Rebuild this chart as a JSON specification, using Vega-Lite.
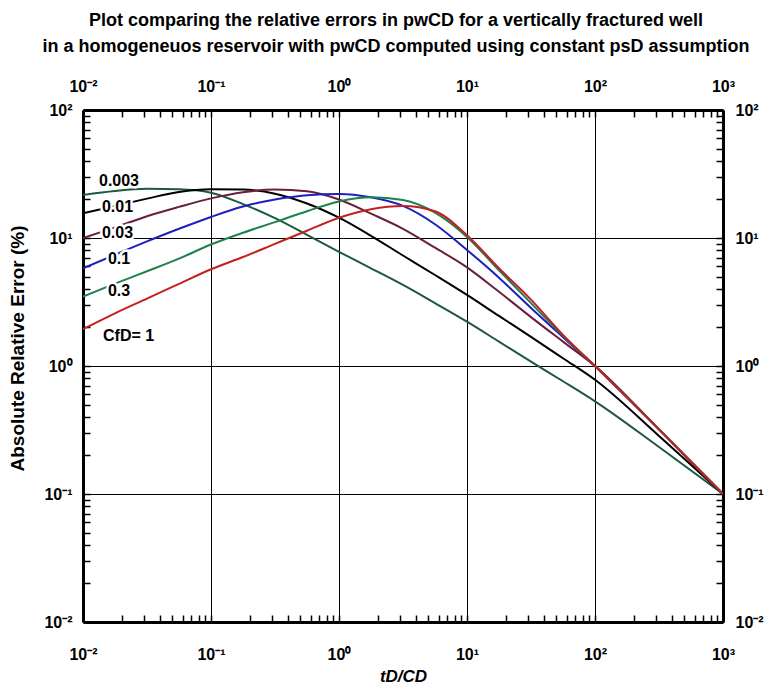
{
  "$schema": "https://vega.github.io/schema/vega-lite/v6.json",
  "width": 640,
  "height": 512,
  "autosize": "none",
  "padding": {"left": 83, "top": 110, "right": 43, "bottom": 68},
  "background": "white",
  "title": {
    "text": ["Plot comparing the relative errors in pwCD for a vertically fractured well", "in a homogeneuos reservoir with pwCD computed using constant psD assumption"],
    "font": "Liberation Sans", "fontSize": 18, "fontWeight": "bold", "color": "black",
    "lineHeight": 26, "anchor": "middle", "offset": 22, "dx": -7
  },
  "config": {
    "view": {"stroke": null},
    "axis": {
      "labelFont": "Liberation Sans", "labelFontSize": 16, "labelFontWeight": "bold", "labelColor": "black",
      "titleFont": "Liberation Sans", "titleFontSize": 17, "titleFontWeight": "bold", "titleColor": "black",
      "domainColor": "black", "domainWidth": 3, "tickColor": "black", "tickWidth": 1.5,
      "gridColor": "black", "gridWidth": 1
    }
  },
  "datasets": {
    "curves": [
      {"cfd": "0.003", "t": 0.01, "e": 21.7}, {"cfd": "0.003", "t": 0.01778, "e": 23.3}, {"cfd": "0.003", "t": 0.03162, "e": 24.2}, {"cfd": "0.003", "t": 0.05623, "e": 24.0}, {"cfd": "0.003", "t": 0.1, "e": 22.6}, {"cfd": "0.003", "t": 0.1778, "e": 18.4}, {"cfd": "0.003", "t": 0.3162, "e": 14.3}, {"cfd": "0.003", "t": 0.5623, "e": 10.6}, {"cfd": "0.003", "t": 1, "e": 7.8}, {"cfd": "0.003", "t": 1.778, "e": 5.8}, {"cfd": "0.003", "t": 3.162, "e": 4.3}, {"cfd": "0.003", "t": 5.623, "e": 3.1}, {"cfd": "0.003", "t": 10, "e": 2.22}, {"cfd": "0.003", "t": 17.78, "e": 1.55}, {"cfd": "0.003", "t": 31.62, "e": 1.08}, {"cfd": "0.003", "t": 56.23, "e": 0.76}, {"cfd": "0.003", "t": 100, "e": 0.53}, {"cfd": "0.003", "t": 316.2, "e": 0.233}, {"cfd": "0.003", "t": 1000, "e": 0.1},
      {"cfd": "0.01", "t": 0.01, "e": 15.6}, {"cfd": "0.01", "t": 0.01778, "e": 17.8}, {"cfd": "0.01", "t": 0.03162, "e": 20.3}, {"cfd": "0.01", "t": 0.05623, "e": 22.9}, {"cfd": "0.01", "t": 0.1, "e": 24.0}, {"cfd": "0.01", "t": 0.1778, "e": 23.9}, {"cfd": "0.01", "t": 0.3162, "e": 22.2}, {"cfd": "0.01", "t": 0.5623, "e": 18.6}, {"cfd": "0.01", "t": 1, "e": 14.4}, {"cfd": "0.01", "t": 1.778, "e": 10.4}, {"cfd": "0.01", "t": 3.162, "e": 7.3}, {"cfd": "0.01", "t": 5.623, "e": 5.14}, {"cfd": "0.01", "t": 10, "e": 3.59}, {"cfd": "0.01", "t": 17.78, "e": 2.46}, {"cfd": "0.01", "t": 31.62, "e": 1.69}, {"cfd": "0.01", "t": 56.23, "e": 1.15}, {"cfd": "0.01", "t": 100, "e": 0.78}, {"cfd": "0.01", "t": 316.2, "e": 0.284}, {"cfd": "0.01", "t": 1000, "e": 0.1},
      {"cfd": "0.03", "t": 0.01, "e": 10.0}, {"cfd": "0.03", "t": 0.01778, "e": 12.1}, {"cfd": "0.03", "t": 0.03162, "e": 14.8}, {"cfd": "0.03", "t": 0.05623, "e": 17.5}, {"cfd": "0.03", "t": 0.1, "e": 20.4}, {"cfd": "0.03", "t": 0.1778, "e": 22.8}, {"cfd": "0.03", "t": 0.3162, "e": 23.9}, {"cfd": "0.03", "t": 0.5623, "e": 23.2}, {"cfd": "0.03", "t": 1, "e": 20.0}, {"cfd": "0.03", "t": 1.778, "e": 15.5}, {"cfd": "0.03", "t": 3.162, "e": 11.8}, {"cfd": "0.03", "t": 5.623, "e": 8.4}, {"cfd": "0.03", "t": 10, "e": 5.9}, {"cfd": "0.03", "t": 17.78, "e": 3.8}, {"cfd": "0.03", "t": 31.62, "e": 2.41}, {"cfd": "0.03", "t": 56.23, "e": 1.55}, {"cfd": "0.03", "t": 100, "e": 1.0}, {"cfd": "0.03", "t": 316.2, "e": 0.32}, {"cfd": "0.03", "t": 1000, "e": 0.1},
      {"cfd": "0.1", "t": 0.01, "e": 5.8}, {"cfd": "0.1", "t": 0.01778, "e": 7.4}, {"cfd": "0.1", "t": 0.03162, "e": 9.4}, {"cfd": "0.1", "t": 0.05623, "e": 11.8}, {"cfd": "0.1", "t": 0.1, "e": 14.6}, {"cfd": "0.1", "t": 0.1778, "e": 17.6}, {"cfd": "0.1", "t": 0.3162, "e": 20.0}, {"cfd": "0.1", "t": 0.5623, "e": 21.6}, {"cfd": "0.1", "t": 1, "e": 22.1}, {"cfd": "0.1", "t": 1.778, "e": 20.8}, {"cfd": "0.1", "t": 3.162, "e": 17.8}, {"cfd": "0.1", "t": 5.623, "e": 12.8}, {"cfd": "0.1", "t": 10, "e": 8.06}, {"cfd": "0.1", "t": 17.78, "e": 4.9}, {"cfd": "0.1", "t": 31.62, "e": 2.84}, {"cfd": "0.1", "t": 56.23, "e": 1.68}, {"cfd": "0.1", "t": 100, "e": 1.0}, {"cfd": "0.1", "t": 316.2, "e": 0.32}, {"cfd": "0.1", "t": 1000, "e": 0.1},
      {"cfd": "0.3", "t": 0.01, "e": 3.48}, {"cfd": "0.3", "t": 0.01778, "e": 4.4}, {"cfd": "0.3", "t": 0.03162, "e": 5.5}, {"cfd": "0.3", "t": 0.05623, "e": 6.9}, {"cfd": "0.3", "t": 0.1, "e": 8.9}, {"cfd": "0.3", "t": 0.1778, "e": 11.0}, {"cfd": "0.3", "t": 0.3162, "e": 13.3}, {"cfd": "0.3", "t": 0.5623, "e": 16.2}, {"cfd": "0.3", "t": 1, "e": 19.3}, {"cfd": "0.3", "t": 1.778, "e": 20.8}, {"cfd": "0.3", "t": 3.162, "e": 19.8}, {"cfd": "0.3", "t": 5.623, "e": 15.8}, {"cfd": "0.3", "t": 10, "e": 10.2}, {"cfd": "0.3", "t": 17.78, "e": 5.6}, {"cfd": "0.3", "t": 31.62, "e": 3.1}, {"cfd": "0.3", "t": 56.23, "e": 1.72}, {"cfd": "0.3", "t": 100, "e": 1.0}, {"cfd": "0.3", "t": 316.2, "e": 0.32}, {"cfd": "0.3", "t": 1000, "e": 0.1},
      {"cfd": "1", "t": 0.01, "e": 1.94}, {"cfd": "1", "t": 0.01778, "e": 2.58}, {"cfd": "1", "t": 0.03162, "e": 3.36}, {"cfd": "1", "t": 0.05623, "e": 4.38}, {"cfd": "1", "t": 0.1, "e": 5.7}, {"cfd": "1", "t": 0.1778, "e": 7.1}, {"cfd": "1", "t": 0.3162, "e": 9.0}, {"cfd": "1", "t": 0.5623, "e": 11.4}, {"cfd": "1", "t": 1, "e": 14.4}, {"cfd": "1", "t": 1.778, "e": 16.8}, {"cfd": "1", "t": 3.162, "e": 17.8}, {"cfd": "1", "t": 5.623, "e": 16.2}, {"cfd": "1", "t": 10, "e": 10.5}, {"cfd": "1", "t": 17.78, "e": 5.8}, {"cfd": "1", "t": 31.62, "e": 3.3}, {"cfd": "1", "t": 56.23, "e": 1.75}, {"cfd": "1", "t": 100, "e": 1.0}, {"cfd": "1", "t": 316.2, "e": 0.32}, {"cfd": "1", "t": 1000, "e": 0.1}
    ],
    "labels": [
      {"label": "0.003", "t": 0.01333, "e": 27.9},
      {"label": "0.01", "t": 0.01406, "e": 17.5},
      {"label": "0.03", "t": 0.01406, "e": 10.9},
      {"label": "0.1", "t": 0.01567, "e": 6.86},
      {"label": "0.3", "t": 0.01567, "e": 3.86},
      {"label": "CfD= 1", "t": 0.01434, "e": 1.71}
    ]
  },
  "layer": [
    {
      "data": {"name": "curves"},
      "mark": {"type": "line", "strokeWidth": 2, "clip": true, "interpolate": "monotone"},
      "encoding": {
        "x": {
          "field": "t", "type": "quantitative",
          "scale": {"type": "log", "domain": [0.01, 1000], "nice": false},
          "axis": {
            "orient": "bottom", "title": "tD/CD", "titleFontStyle": "italic", "titlePadding": 6,
            "values": [0.01,0.02,0.03,0.04,0.05,0.06,0.07,0.08,0.09,0.1,0.2,0.3,0.4,0.5,0.6,0.7,0.8,0.9,1,2,3,4,5,6,7,8,9,10,20,30,40,50,60,70,80,90,100,200,300,400,500,600,700,800,900,1000],
            "labelExpr": "abs(log(datum.value)/LN10 - round(log(datum.value)/LN10)) > 0.01 ? '' : (round(log(datum.value)/LN10) == -2 ? '10⁻²' : round(log(datum.value)/LN10) == -1 ? '10⁻¹' : round(log(datum.value)/LN10) == 0 ? '10⁰' : round(log(datum.value)/LN10) == 1 ? '10¹' : round(log(datum.value)/LN10) == 2 ? '10²' : '10³')",
            "labelPadding": 31, "labelFlush": false, "labelOverlap": false,
            "tickSize": -7,
            "grid": true,
            "gridOpacity": {"condition": {"test": "abs(log(datum.value)/LN10 - round(log(datum.value)/LN10)) < 0.01", "value": 1}, "value": 0}
          }
        },
        "y": {
          "field": "e", "type": "quantitative",
          "scale": {"type": "log", "domain": [0.01, 100], "nice": false},
          "axis": {
            "orient": "left", "title": "Absolute Relative Error (%)", "titlePadding": 16, "titleFontSize": 19, "titleY": 238,
            "values": [0.01,0.02,0.03,0.04,0.05,0.06,0.07,0.08,0.09,0.1,0.2,0.3,0.4,0.5,0.6,0.7,0.8,0.9,1,2,3,4,5,6,7,8,9,10,20,30,40,50,60,70,80,90,100],
            "labelExpr": "abs(log(datum.value)/LN10 - round(log(datum.value)/LN10)) > 0.01 ? '' : (round(log(datum.value)/LN10) == -2 ? '10⁻²' : round(log(datum.value)/LN10) == -1 ? '10⁻¹' : round(log(datum.value)/LN10) == 0 ? '10⁰' : round(log(datum.value)/LN10) == 1 ? '10¹' : '10²')",
            "labelPadding": 18, "labelFlush": false, "labelOverlap": false,
            "tickSize": -7,
            "grid": true,
            "gridOpacity": {"condition": {"test": "abs(log(datum.value)/LN10 - round(log(datum.value)/LN10)) < 0.01", "value": 1}, "value": 0}
          }
        },
        "color": {
          "field": "cfd", "type": "nominal",
          "scale": {"domain": ["0.003", "0.01", "0.03", "0.1", "0.3", "1"], "range": ["#1d5a3c", "#000000", "#6a1f40", "#1f1fc0", "#1f8050", "#c42020"]},
          "legend": null
        }
      }
    },
    {
      "data": {"name": "curves"},
      "mark": {"type": "line", "opacity": 0},
      "encoding": {
        "x": {
          "field": "t", "type": "quantitative",
          "scale": {"type": "log", "domain": [0.01, 1000], "nice": false},
          "axis": {
            "orient": "top", "title": null,
            "values": [0.01,0.02,0.03,0.04,0.05,0.06,0.07,0.08,0.09,0.1,0.2,0.3,0.4,0.5,0.6,0.7,0.8,0.9,1,2,3,4,5,6,7,8,9,10,20,30,40,50,60,70,80,90,100,200,300,400,500,600,700,800,900,1000],
            "labelExpr": "abs(log(datum.value)/LN10 - round(log(datum.value)/LN10)) > 0.01 ? '' : (round(log(datum.value)/LN10) == -2 ? '10⁻²' : round(log(datum.value)/LN10) == -1 ? '10⁻¹' : round(log(datum.value)/LN10) == 0 ? '10⁰' : round(log(datum.value)/LN10) == 1 ? '10¹' : round(log(datum.value)/LN10) == 2 ? '10²' : '10³')",
            "labelPadding": 23, "labelFlush": false, "labelOverlap": false,
            "tickSize": -7,
            "grid": false
          }
        },
        "y": {
          "field": "e", "type": "quantitative",
          "scale": {"type": "log", "domain": [0.01, 100], "nice": false},
          "axis": {
            "orient": "right", "title": null,
            "values": [0.01,0.02,0.03,0.04,0.05,0.06,0.07,0.08,0.09,0.1,0.2,0.3,0.4,0.5,0.6,0.7,0.8,0.9,1,2,3,4,5,6,7,8,9,10,20,30,40,50,60,70,80,90,100],
            "labelExpr": "abs(log(datum.value)/LN10 - round(log(datum.value)/LN10)) > 0.01 ? '' : (round(log(datum.value)/LN10) == -2 ? '10⁻²' : round(log(datum.value)/LN10) == -1 ? '10⁻¹' : round(log(datum.value)/LN10) == 0 ? '10⁰' : round(log(datum.value)/LN10) == 1 ? '10¹' : '10²')",
            "labelPadding": 19, "labelFlush": false, "labelOverlap": false,
            "tickSize": -7,
            "grid": false
          }
        }
      }
    },
    {
      "data": {"name": "labels"},
      "mark": {"type": "text", "align": "left", "baseline": "middle", "font": "Liberation Sans", "fontSize": 16, "fontWeight": "bold", "stroke": "white", "strokeWidth": 5, "fill": "white"},
      "encoding": {
        "x": {"field": "t", "type": "quantitative", "axis": null},
        "y": {"field": "e", "type": "quantitative", "axis": null},
        "text": {"field": "label"}
      }
    },
    {
      "data": {"name": "labels"},
      "mark": {"type": "text", "align": "left", "baseline": "middle", "font": "Liberation Sans", "fontSize": 16, "fontWeight": "bold", "color": "black"},
      "encoding": {
        "x": {"field": "t", "type": "quantitative", "axis": null},
        "y": {"field": "e", "type": "quantitative", "axis": null},
        "text": {"field": "label"}
      }
    }
  ],
  "resolve": {"axis": {"x": "independent", "y": "independent"}}
}
